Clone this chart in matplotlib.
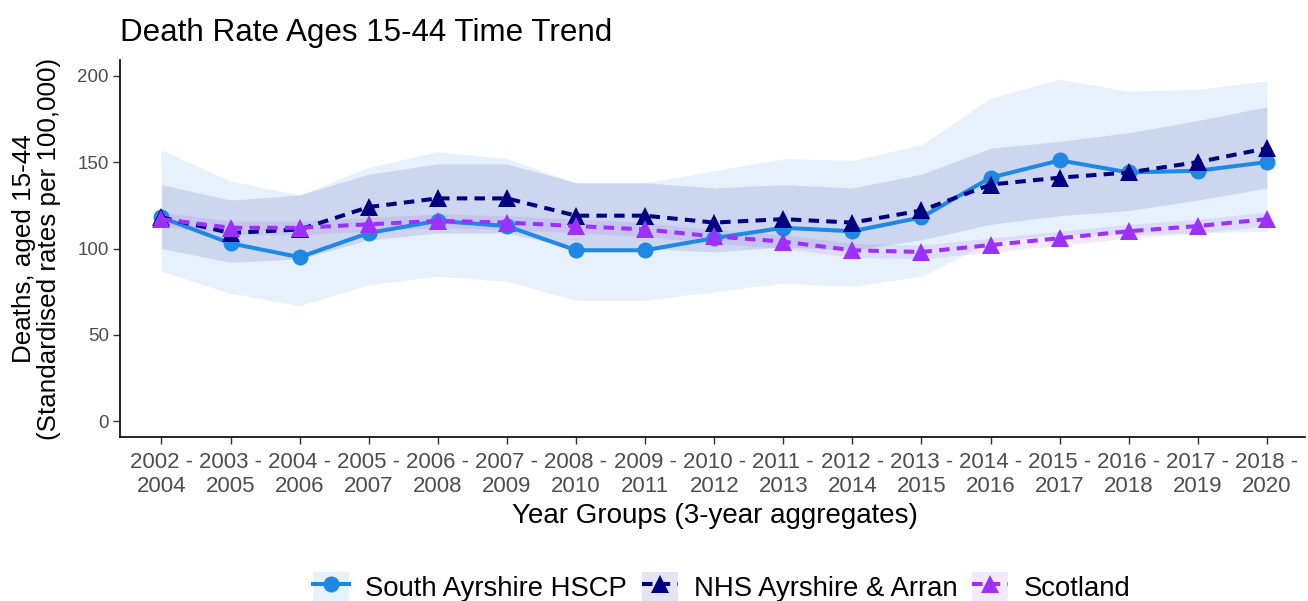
import matplotlib
matplotlib.use("Agg")
import matplotlib.pyplot as plt
from matplotlib.lines import Line2D
from matplotlib.patches import Patch

plt.rcParams["font.family"] = ["Liberation Sans", "DejaVu Sans"]

year_groups = ["2002 -\n2004", "2003 -\n2005", "2004 -\n2006", "2005 -\n2007", "2006 -\n2008",
               "2007 -\n2009", "2008 -\n2010", "2009 -\n2011", "2010 -\n2012", "2011 -\n2013",
               "2012 -\n2014", "2013 -\n2015", "2014 -\n2016", "2015 -\n2017", "2016 -\n2018",
               "2017 -\n2019", "2018 -\n2020"]

south_ayrshire = [118, 103, 95, 109, 116, 113, 99, 99, 106, 112, 110, 118, 141, 151, 144, 145, 150]
south_ayrshire_lo = [87, 74, 67, 79, 84, 81, 70, 70, 75, 80, 78, 84, 104, 108, 108, 109, 110]
south_ayrshire_hi = [157, 139, 131, 147, 156, 152, 138, 138, 145, 152, 151, 160, 187, 198, 191, 192, 197]

nhs_aa = [118, 109, 111, 124, 129, 129, 119, 119, 115, 117, 115, 122, 137, 141, 144, 150, 158]
nhs_aa_lo = [100, 92, 94, 105, 109, 109, 100, 100, 98, 101, 99, 105, 114, 119, 122, 128, 135]
nhs_aa_hi = [137, 128, 131, 143, 149, 149, 138, 138, 135, 137, 135, 143, 158, 162, 167, 174, 182]

scotland = [117, 112, 112, 114, 116, 115, 113, 111, 107, 104, 99, 98, 102, 106, 110, 113, 117]
scotland_lo = [113, 108, 108, 110, 112, 111, 109, 107, 103, 100, 95, 94, 98, 102, 106, 109, 113]
scotland_hi = [121, 116, 116, 118, 120, 119, 117, 115, 111, 108, 103, 102, 106, 110, 114, 117, 121]

dashed = (0, (2.6, 1.8))
series = [
    ("South Ayrshire HSCP", south_ayrshire, south_ayrshire_lo, south_ayrshire_hi, "#1E88E5", "o", "-"),
    ("NHS Ayrshire & Arran", nhs_aa, nhs_aa_lo, nhs_aa_hi, "#000080", "^", dashed),
    ("Scotland", scotland, scotland_lo, scotland_hi, "#9B30FF", "^", dashed),
]

fig = plt.figure(figsize=(13.08, 6.01), dpi=100)
ax = fig.add_axes([0.0917, 0.273, 0.906, 0.627])
x = list(range(len(year_groups)))

# confidence bands first, then the lines on top
for name, vals, lo, hi, color, marker, ls in series:
    ax.fill_between(x, lo, hi, color=color, alpha=0.11, linewidth=0)

handles = []
for name, vals, lo, hi, color, marker, ls in series:
    ms = 11.5 if marker == "o" else 13
    ax.plot(x, vals, color=color, linestyle=ls, linewidth=2.9, marker=marker,
            markersize=ms, markeredgewidth=0)
    handles.append((Patch(facecolor=color, alpha=0.11, edgecolor="none"),
                    Line2D([], [], color=color, linestyle=ls, linewidth=2.9, marker=marker,
                           markersize=ms, markeredgewidth=0)))

ax.set_xlim(-0.6, 16.55)
ax.set_ylim(-9, 209)
ax.set_yticks([0, 50, 100, 150, 200])
ax.set_xticks(x)
ax.set_xticklabels(year_groups, fontsize=16, color="#4D4D4D", linespacing=1.2)
ax.tick_params(axis="y", labelsize=13.5, labelcolor="#4D4D4D", length=5, width=1, color="#333333", pad=3)
ax.tick_params(axis="x", length=5, width=1, color="#333333", pad=6)
for side in ["top", "right"]:
    ax.spines[side].set_visible(False)
for side in ["left", "bottom"]:
    ax.spines[side].set_linewidth(1.2)
    ax.spines[side].set_color("black")

ax.set_xlabel("Year Groups (3-year aggregates)", fontsize=20)
ax.xaxis.set_label_coords(0.502, -0.21)
ax.xaxis.label.set_va("center")
ax.set_ylabel("Deaths, aged 15-44\n(Standardised rates per 100,000)", fontsize=18.7,
              linespacing=1.05)
ax.yaxis.set_label_coords(-0.0705, 0.5)
ax.yaxis.label.set_va("center")
fig.text(0.0917, 0.932, "Death Rate Ages 15-44 Time Trend", fontsize=22.6, va="baseline", ha="left")

fig.legend(handles, [s[0] for s in series], loc="center", bbox_to_anchor=(0.552, 0.023),
           ncol=3, frameon=False, fontsize=19.8, handlelength=1.3, handleheight=1.3,
           handletextpad=0.58, columnspacing=0.55)

fig.savefig("out.png", dpi=100)
